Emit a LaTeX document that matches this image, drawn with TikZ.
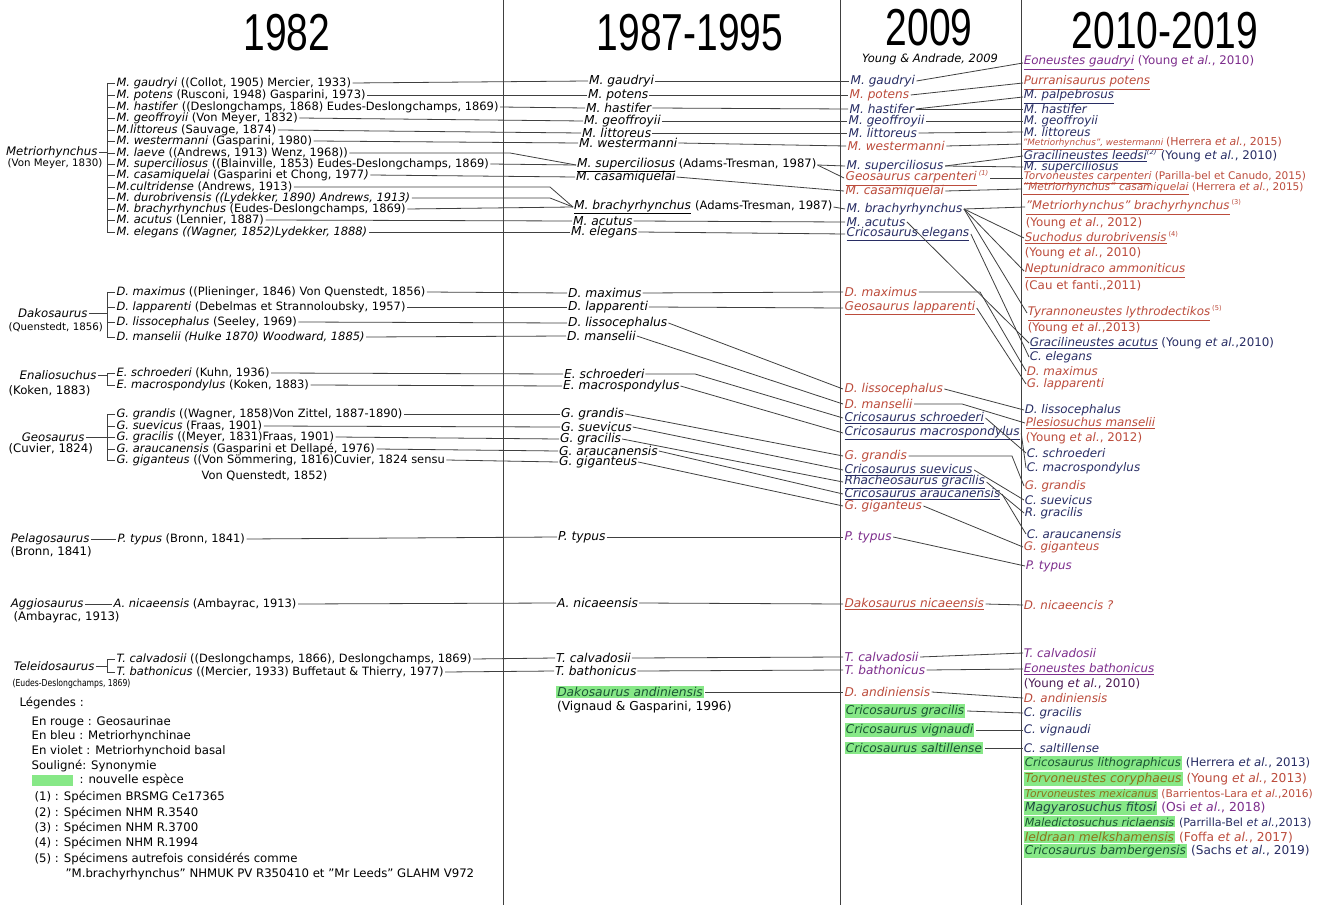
\documentclass[tikz,border=0pt]{standalone}
\usepackage{fontspec}
\setmainfont{DejaVu Sans}
\newfontfamily\hdrfont{Liberation Sans}
\usepackage{graphicx}
\usetikzlibrary{positioning}

\definecolor{geored}{RGB}{188,76,60}
\definecolor{metblue}{RGB}{40,45,100}
\definecolor{basviol}{RGB}{125,45,140}
\definecolor{newsp}{RGB}{135,232,135}
\definecolor{newtxt}{RGB}{25,85,50}
\definecolor{oltxt}{RGB}{140,115,25}

\newcommand\fsz[1]{\fontsize{#1}{#1}\selectfont}
\newcommand\hdr[1]{\scalebox{0.75}[1]{\hdrfont\fontsize{39}{40}\selectfont #1}}
\newcommand\nouv[1]{{\setlength{\fboxsep}{0.9pt}\colorbox{newsp}{#1}}}
\newcommand\etal{\textit{et al.}}

\tikzset{
  sp/.style={anchor=west, inner sep=1pt},
  c82/.style={sp, font=\fsz{8.6}},
  c87/.style={sp, inner sep=0.6pt, font=\fsz{9.2}},
  c09/.style={sp, font=\fsz{9.1}\itshape},
  c10/.style={sp, inner sep=0.4pt, font=\fsz{8.9}},
  sm/.style={sp, inner sep=0.4pt, font=\fsz{7.9}},
  lg/.style={anchor=west, inner sep=1pt, font=\fsz{8.8}},
  gn/.style={anchor=east, inner sep=1pt, font=\fsz{8.8}\itshape},
  au/.style={anchor=west, inner sep=1pt, font=\fsz{8.8}},
  yr/.style={inner sep=0pt, text depth=0pt},
  ln/.style={draw=black!75, line width=0.6pt}
}

\begin{document}
\begin{tikzpicture}[x=0.75pt,y=-0.75pt]
\fill[white] (0,0) rectangle (1326,905);
\useasboundingbox (0,0) rectangle (1326,905);

% column dividers and headers
\foreach \xx in {503,840,1021}
  \draw[ln] (\xx,0) -- (\xx,905);
\node[yr] (h82) at (287,32) {\hdr{1982}};
\node[yr] (h87) at (690,32) {\hdr{1987-1995}};
\node[yr] (h09) at (929,27) {\hdr{2009}};
\node[yr] (h10) at (1165,30) {\hdr{2010-2019}};
\node[inner sep=0pt, font=\fsz{8.6}\itshape] (ya09) at (930,59) {Young \& Andrade, 2009};

\coordinate (brk) at (107,0);
\coordinate (kA) at (510,0);
\coordinate (kB) at (550,0);
\coordinate (kC) at (695,0);
\coordinate (kD) at (980,0);
\coordinate (kE) at (962,0);
\coordinate (kF) at (1012,0);

% 1982
\node[gn] (gMet) at (99,152) {Metriorhynchus};
\node[au, font=\fsz{7.7}] (aMet) at (6,164) {(Von Meyer, 1830)};
\node[gn] (gDak) at (89,313) {Dakosaurus};
\node[au, font=\fsz{7.7}] (aDak) at (7,327) {(Quenstedt, 1856)};
\node[gn] (gEna) at (98,375) {Enaliosuchus};
\node[au] (aEna) at (7,391) {(Koken, 1883)};
\node[gn] (gGeo) at (86,437) {Geosaurus};
\node[au] (aGeo) at (7,449) {(Cuvier, 1824)};
\node[gn] (gPel) at (91,539) {Pelagosaurus};
\node[au] (aPel) at (9,552) {(Bronn, 1841)};
\node[gn] (gAgg) at (85,604) {Aggiosaurus};
\node[au] (aAgg) at (12,617) {(Ambayrac, 1913)};
\node[gn] (gTel) at (96,666) {Teleidosaurus};
\node[au] (aTel) at (11,684) {\scalebox{0.8}[1]{\fsz{7.2}(Eudes-Deslongchamps, 1869)}};

\foreach \nm/\yy/\txt in {
    gau82/83/{\textit{M. gaudryi} ((Collot, 1905) Mercier, 1933)},
    pot82/95/{\textit{M. potens} (Rusconi, 1948) Gasparini, 1973)},
    has82/107/{\textit{M. hastifer} ((Deslongchamps, 1868) Eudes-Deslongchamps, 1869)},
    geo82/118/{\textit{M. geoffroyii} (Von Meyer, 1832)},
    lit82/130/{\textit{M.littoreus} (Sauvage, 1874)},
    wes82/141/{\textit{M. westermanni} (Gasparini, 1980)},
    lae82/153/{\textit{M. laeve} ((Andrews, 1913) Wenz, 1968))},
    sup82/164/{\textit{M. superciliosus} ((Blainville, 1853) Eudes-Deslongchamps, 1869)},
    cas82/175/{\textit{M. casamiquelai} (Gasparini et Chong, 1977\textit{)}},
    cul82/187/{\textit{M.cultridense} (Andrews, 1913)},
    dur82/198/{\textit{M. durobrivensis ((Lydekker, 1890) Andrews, 1913)}},
    bra82/209/{\textit{M. brachyrhynchus} (Eudes-Deslongchamps, 1869)},
    acu82/220/{\textit{M. acutus} (Lennier, 1887)},
    ele82/232/{\textit{M. elegans ((Wagner, 1852)Lydekker, 1888)}},
    max82/292/{\textit{D. maximus} ((Plieninger, 1846) Von Quenstedt, 1856)},
    lap82/307/{\textit{D. lapparenti} (Debelmas et Strannoloubsky, 1957)},
    lis82/322/{\textit{D. lissocephalus} (Seeley, 1969)},
    man82/337/{\textit{D. manselii (Hulke 1870) Woodward, 1885)}},
    sch82/373/{\textit{E. schroederi} (Kuhn, 1936)},
    mac82/385/{\textit{E. macrospondylus} (Koken, 1883)},
    gra82/414/{\textit{G. grandis} ((Wagner, 1858)Von Zittel, 1887-1890)},
    sue82/426/{\textit{G. suevicus} (Fraas, 1901)},
    grc82/437/{\textit{G. gracilis} ((Meyer, 1831)Fraas, 1901)},
    ara82/449/{\textit{G. araucanensis} (Gasparini et Dellapé, 1976)},
    gig82/460/{\textit{G. giganteus} ((Von Sömmering, 1816)Cuvier, 1824 sensu},
    cal82/659/{\textit{T. calvadosii} ((Deslongchamps, 1866), Deslongchamps, 1869)},
    bat82/672/{\textit{T. bathonicus} ((Mercier, 1933) Buffetaut \& Thierry, 1977)}}
  \node[c82] (\nm) at (115,\yy) {\txt};
\node[c82] (gig82b) at (200,476) {Von Quenstedt, 1852)};
\node[c82] (typ82) at (116,539) {\textit{P. typus} (Bronn, 1841)};
\node[c82] (nic82) at (112,604) {\textit{A. nicaeensis} (Ambayrac, 1913)};

% brackets
\foreach \g/\h in {gau82/ele82, max82/man82, sch82/mac82, gra82/gig82, cal82/bat82}
  \draw[ln] (\g.west -| brk) -- (\h.west -| brk);
\foreach \nm in {gau82,pot82,has82,geo82,lit82,wes82,lae82,sup82,cas82,cul82,dur82,bra82,acu82,ele82,
                 max82,lap82,lis82,man82,sch82,mac82,gra82,sue82,grc82,ara82,gig82,cal82,bat82}
  \draw[ln] (\nm.west -| brk) -- (\nm.west);
\foreach \nm in {gMet,gDak,gEna,gGeo,gTel}
  \draw[ln] (\nm.east) -- (\nm.east -| brk);
\draw[ln] (gPel.east) -- (typ82.west);
\draw[ln] (gAgg.east) -- (nic82.west);

% 1987-1995
\foreach \nm/\xx/\yy/\txt in {
    gau87/588/81/{M. gaudryi}, pot87/587/95/{M. potens}, has87/585/108/{M. hastifer},
    geo87/583/121/{M. geoffroyii}, lit87/581/133/{M. littoreus}, wes87/578/143/{M. westermanni},
    cas87/575/177/{M. casamiquelai}, acu87/572/221/{M. acutus}, ele87/570/232/{M. elegans},
    max87/567/293/{D. maximus}, lap87/567/307/{D. lapparenti}, lis87/567/323/{D. lissocephalus},
    man87/566/336/{D. manselii}, sch87/563/374/{E. schroederi}, mac87/562/386/{E. macrospondylus},
    gra87/560/414/{G. grandis}, sue87/560/427/{G. suevicus}, grc87/559/439/{G. gracilis},
    ara87/558/451/{G. araucanensis}, gig87/558/462/{G. giganteus}, typ87/557/537/{P. typus},
    nic87/556/603/{A. nicaeensis}, cal87/555/658/{T. calvadosii}, bat87/554/671/{T. bathonicus}}
  \node[c87, font=\fsz{9.2}\itshape] (\nm) at (\xx,\yy) {\txt};
\node[c87] (sup87) at (576,165) {\underline{\textit{M. superciliosus}} {\fsz{8.7}(Adams-Tresman, 1987)}};
\node[c87] (bra87) at (573,207) {\underline{\textit{M. brachyrhynchus}} {\fsz{8.7}(Adams-Tresman, 1987)}};
\node[c87] (and87) at (555,692) {\textcolor{newtxt}{\nouv{\textit{Dakosaurus andiniensis}}}};
\node[c87] (and87r) at (556,707) {(Vignaud \& Gasparini, 1996)};

% 1982 -> 1987-1995
\foreach \rt in {gau,pot,has,geo,lit,wes,sup,cas,bra,acu,ele,max,lap,lis,man,sch,mac,gra,sue,grc,ara,gig,typ,nic,cal,bat}
  \draw[ln] (\rt82.east) -- (\rt87.west);
\draw[ln] (lae82.east) -- (lae82.east -| kA) -- (sup87.west);
\draw[ln] (cul82.east) -- (cul82.east -| kB) -- (bra87.west);
\draw[ln] (dur82.east) -- (dur82.east -| kB) -- (bra87.west);

% 2009
\foreach \nm/\xx/\yy/\cl/\txt in {
    gau09/849/81/metblue/{M. gaudryi}, pot09/848/95/geored/{M. potens},
    has09/848/109/metblue/{M. hastifer}, geo09/847/121/metblue/{M. geoffroyii},
    lit09/847/133/metblue/{M. littoreus}, wes09/846/146/geored/{M. westermanni},
    sup09/845/166/metblue/{M. superciliosus},
    car09/844/178/geored/{\underline{Geosaurus carpenteri}\,\textsuperscript{\tiny(1)}},
    cas09/844/191/geored/{M. casamiquelai}, bra09/845/209/metblue/{M. brachyrhynchus},
    acu09/845/222/metblue/{M. acutus}, ele09/845/234/metblue/{\underline{Cricosaurus elegans}},
    max09/843/292/geored/{D. maximus}, lap09/843/308/geored/{\underline{Geosaurus lapparenti}},
    lis09/843/389/geored/{D. lissocephalus}, man09/843/404/geored/{D. manselii},
    sch09/843/418/metblue/{\underline{Cricosaurus schroederi}},
    mac09/843/433/metblue/{\underline{Cricosaurus macrospondylus}},
    gra09/843/456/geored/{G. grandis}, sue09/843/470/metblue/{\underline{Cricosaurus suevicus}},
    grc09/843/482/metblue/{\underline{Rhacheosaurus gracilis}},
    ara09/843/494/metblue/{\underline{Cricosaurus araucanensis}},
    gig09/843/506/geored/{G. giganteus}, typ09/843/537/basviol/{P. typus},
    nic09/843/604/geored/{\underline{Dakosaurus nicaeensis}},
    cal09/843/657/basviol/{T. calvadosii}, bat09/843/670/basviol/{T. bathonicus},
    and09/843/692/geored/{D. andiniensis},
    crg09/843/711/newtxt/{\nouv{Cricosaurus gracilis}},
    vig09/843/730/newtxt/{\nouv{Cricosaurus vignaudi}},
    sal09/843/748/newtxt/{\nouv{Cricosaurus saltillense}}}
  \node[c09, text=\cl] (\nm) at (\xx,\yy) {\txt};

% 1987-1995 -> 2009
\foreach \rt in {gau,pot,has,geo,lit,wes,sup,cas,bra,acu,ele,max,lap,lis,man,mac,gra,sue,grc,ara,gig,typ,nic,cal,bat,and}
  \draw[ln] (\rt87.east) -- (\rt09.west);
\draw[ln] (sup87.east) -- (car09.west);
\draw[ln] (sch87.east) -- (sch87.east -| kC) -- (sch09.west);

% 2010-2019
\foreach \nm/\xx/\yy/\cl/\txt in {
    gau10/1023/63/basviol/{\underline{\textit{Eoneustes gaudryi}} (Young \etal, 2010)},
    pot10/1023/83/geored/{\underline{\textit{Purranisaurus potens}}},
    pal10/1023/97/metblue/{\underline{\textit{M. palpebrosus}}},
    has10/1023/109/metblue/{\textit{M. hastifer}},
    geo10/1023/121/metblue/{\textit{M. geoffroyii}},
    lit10/1023/132/metblue/{\textit{M. littoreus}},
    lee10/1023/156/metblue/{\underline{\textit{Gracilineustes leedsi}}\textsuperscript{\tiny\itshape(2)} (Young \etal, 2010)},
    sup10/1023/167/metblue/{\textit{M. superciliosus}},
    bra10/1025/207/geored/{\underline{\textit{"Metriorhynchus" brachyrhynchus}}\,\textsuperscript{\tiny(3)}},
    bra10r/1025/223/geored/{(Young \etal, 2012)},
    suc10/1024/238/geored/{\underline{\textit{Suchodus durobrivensis}}\,\textsuperscript{\tiny(4)}},
    suc10r/1024/253/geored/{(Young \etal, 2010)},
    nep10/1024/271/geored/{\underline{\textit{Neptunidraco ammoniticus}}},
    nep10r/1024/286/geored/{(Cau et fanti.,2011)},
    tyr10/1027/313/geored/{\underline{\textit{Tyrannoneustes lythrodectikos}}\,\textsuperscript{\tiny(5)}},
    tyr10r/1027/328/geored/{(Young \etal,2013)},
    acu10/1029/343/metblue/{\underline{\textit{Gracilineustes acutus}} (Young \etal,2010)},
    ele10/1029/357/metblue/{\textit{C. elegans}},
    max10/1026/371/geored/{\textit{D. maximus}},
    lap10/1026/384/geored/{\textit{G. lapparenti}},
    lis10/1024/410/metblue/{\textit{D. lissocephalus}},
    man10/1025/423/geored/{\underline{\textit{Plesiosuchus manselii}}},
    man10r/1025/438/geored/{(Young \etal, 2012)},
    sch10/1026/453/metblue/{\textit{C. schroederi}},
    mac10/1026/468/metblue/{\textit{C. macrospondylus}},
    gra10/1024/486/geored/{\textit{G. grandis}},
    sue10/1024/500/metblue/{\textit{C. suevicus}},
    grc10/1024/513/metblue/{\textit{R. gracilis}},
    ara10/1026/534/metblue/{\textit{C. araucanensis}},
    gig10/1023/547/geored/{\textit{G. giganteus}},
    typ10/1025/566/basviol/{\textit{P. typus}},
    nic10/1023/605/geored/{\textit{D. nicaeencis ?}},
    cal10/1023/653/basviol/{\textit{T. calvadosii}},
    bat10/1023/669/basviol/{\underline{\textit{Eoneustes bathonicus}}},
    bat10r/1023/684/basviol!60!black/{(Young \etal, 2010)},
    and10/1023/698/geored/{\textit{D. andiniensis}},
    crg10/1023/713/metblue/{\textit{C. gracilis}},
    vig10/1023/730/metblue/{\textit{C. vignaudi}},
    sal10/1023/748/metblue/{\textit{C. saltillense}}}
  \node[c10, text=\cl] (\nm) at (\xx,\yy) {\txt};
\node[sp, inner sep=0.4pt, text=geored] (wes10) at (1022,144)
  {\fsz{6.6}\underline{\textit{"Metriorhynchus", westermanni}} \fsz{8.2}(Herrera \etal, 2015)};
\node[sm, text=geored] (car10) at (1023,178) {\underline{\textit{Torvoneustes carpenteri}} (Parilla-bel et Canudo, 2015)};
\node[sm, text=geored] (cas10) at (1022,189) {\underline{\textit{"Metriorhynchus" casamiquelai}} (Herrera \etal, 2015)};

% new species 2010-2019
\node[sp, font=\fsz{8.8}] (lit13) at (1022,763) {\textcolor{newtxt}{\nouv{\textit{Cricosaurus lithographicus}}} \textcolor{metblue}{(Herrera \etal, 2013)}};
\node[sp, font=\fsz{9.2}] (cor13) at (1022,779) {\textcolor{oltxt}{\nouv{\textit{Torvoneustes coryphaeus}}} \textcolor{geored}{(Young \etal, 2013)}};
\node[sp, font=\fsz{8}] (mex16) at (1022,794) {\textcolor{oltxt}{\nouv{\textit{Torvoneustes mexicanus}}} \textcolor{geored}{(Barrientos-Lara \etal,2016)}};
\node[sp, font=\fsz{9.3}] (fit18) at (1022,808) {\textcolor{newtxt!70!metblue}{\nouv{\textit{Magyarosuchus fitosi}}} \textcolor{basviol}{(Osi \etal, 2018)}};
\node[sp, font=\fsz{8.4}] (ric13) at (1022,822) {\textcolor{newtxt}{\nouv{\textit{Maledictosuchus riclaensis}}} \textcolor{metblue}{(Parrilla-Bel \etal,2013)}};
\node[sp, font=\fsz{9.2}] (mel17) at (1022,837) {\textcolor{oltxt}{\nouv{\textit{Ieldraan melkshamensis}}} \textcolor{geored}{(Foffa \etal, 2017)}};
\node[sp, font=\fsz{9.1}] (bam19) at (1022,851) {\textcolor{newtxt}{\nouv{\textit{Cricosaurus bambergensis}}} \textcolor{metblue}{(Sachs \etal, 2019)}};

% 2009 -> 2010-2019
\foreach \rt in {gau,pot,has,geo,lit,wes,sup,car,cas,bra,acu,ele,lap,lis,sch,mac,sue,grc,ara,gig,typ,nic,cal,bat,and,crg,vig,sal}
  \draw[ln] (\rt09.east) -- (\rt10.west);
\draw[ln] (has09.east) -- (pal10.west);
\draw[ln] (sup09.east) -- (lee10.west);
\foreach \nm in {suc10,nep10,tyr10}
  \draw[ln] (bra09.east) -- (\nm.west);
\draw[ln] (max09.east) -- (max09.east -| kD) -- (max10.west);
\draw[ln] (man09.east) -- (man09.east -| kE) -- (man10.west);
\draw[ln] (gra09.east) -- (gra09.east -| kF) -- (gra10.west);

% legend
\node[lg] (leg) at (18,703) {Légendes :};
\node[lg] (legr) at (30,722) {En rouge : Geosaurinae};
\node[lg] (legb) at (30,736) {En bleu : Metriorhynchinae};
\node[lg] (legv) at (30,751) {En violet : Metriorhynchoid basal};
\node[lg] (legs) at (30,766) {Souligné: Synonymie};
\node[fill=newsp, inner sep=0pt, minimum width=30.75pt, minimum height=8.25pt, anchor=west] (legn) at (32,780) {};
\node[lg] (legnt) at (78,780) {: nouvelle espèce};
\node[lg] (leg1) at (33,797) {(1) : Spécimen BRSMG Ce17365};
\node[lg] (leg2) at (33,813) {(2) : Spécimen NHM R.3540};
\node[lg] (leg3) at (33,828) {(3) : Spécimen NHM R.3700};
\node[lg] (leg4) at (33,843) {(4) : Spécimen NHM R.1994};
\node[lg] (leg5) at (33,859) {(5) : Spécimens autrefois considérés comme};
\node[lg] (leg5b) at (64,874) {"M.brachyrhynchus" NHMUK PV R350410 et "Mr Leeds" GLAHM V972};
\end{tikzpicture}
\end{document}
